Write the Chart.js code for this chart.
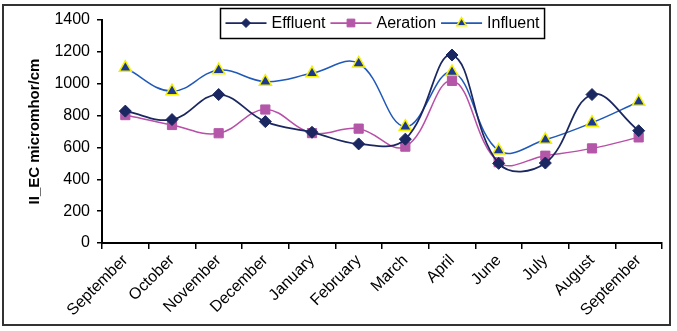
<!DOCTYPE html>
<html>
<head>
<meta charset="utf-8">
<script src="https://cdn.jsdelivr.net/npm/chart.js@4.4.1/dist/chart.umd.min.js"></script>
<style>
    html, body { margin: 0; padding: 0; background: #fff; }
    #wrap { width: 677px; height: 331px; }
</style>
</head>
<body>
<div id="wrap"><canvas id="ecChart" width="677" height="331"></canvas></div>
<script>
const months = ['September', 'October', 'November', 'December', 'January', 'February',
                'March', 'April', 'June', 'July', 'August', 'September'];
const effluent = [828, 775, 932, 762, 695, 622, 652, 1180, 500, 502, 932, 705];
const aeration = [803, 741, 689, 838, 690, 718, 605, 1018, 507, 548, 594, 663];
const influent = [1100, 953, 1085, 1013, 1065, 1127, 730, 1073, 580, 648, 755, 887];
const yTicks = [0, 200, 400, 600, 800, 1000, 1200, 1400];

const FONT = '"Liberation Sans", Arial, sans-serif';

// small marker drawer for the legend
function drawMarker(ctx, style, x, y, r) {
    ctx.beginPath();
    if (style === 'rectRot') {
        ctx.moveTo(x, y - r); ctx.lineTo(x + r, y); ctx.lineTo(x, y + r); ctx.lineTo(x - r, y);
    } else if (style === 'rect') {
        const s = r * Math.SQRT1_2;
        ctx.rect(x - s, y - s, 2 * s, 2 * s);
    } else {
        const h = r * 1.5, w = r * Math.sqrt(3) / 2;
        ctx.moveTo(x, y - r); ctx.lineTo(x + w, y + h - r); ctx.lineTo(x - w, y + h - r);
    }
    ctx.closePath();
    ctx.fill();
    ctx.stroke();
}

const boxLegend = {
    id: 'boxLegend',
    afterDraw(chart) {
        const ctx = chart.ctx;
        const sets = chart.data.datasets;
        const lineLen = 41, gap = 5, pad = 5, h = 30, top = 8;
        ctx.save();
        ctx.font = '16px ' + FONT;
        let total = pad * 2;
        sets.forEach((ds, i) => {
            total += lineLen + gap + ctx.measureText(ds.label).width;
            if (i < sets.length - 1) total += gap;
        });
        const left = Math.round(382.5 - total / 2) + 0.5;
        ctx.fillStyle = '#fff';
        ctx.fillRect(left, top, total, h);
        ctx.strokeStyle = '#000';
        ctx.lineWidth = 1.5;
        ctx.strokeRect(left, top + 0.5, total, h);

        let x = left + pad;
        const cy = top + h / 2;
        sets.forEach(ds => {
            ctx.strokeStyle = ds.borderColor;
            ctx.lineWidth = 1.75;
            ctx.beginPath();
            ctx.moveTo(x, cy);
            ctx.lineTo(x + lineLen, cy);
            ctx.stroke();
            ctx.fillStyle = ds.pointBackgroundColor;
            ctx.strokeStyle = ds.pointBorderColor;
            ctx.lineWidth = ds.pointBorderWidth;
            drawMarker(ctx, ds.pointStyle, x + lineLen / 2, cy, ds.legendRadius);
            x += lineLen + gap;
            ctx.fillStyle = '#000';
            ctx.textBaseline = 'middle';
            ctx.textAlign = 'left';
            ctx.fillText(ds.label, x, cy + 1);
            x += ctx.measureText(ds.label).width + gap;
        });

        // outer frame of the figure
        ctx.strokeStyle = '#333';
        ctx.lineWidth = 2;
        ctx.strokeRect(3, 5, 667, 320);
        ctx.restore();
    }
};

const ctx = document.getElementById('ecChart').getContext('2d');
new Chart(ctx, {
    type: 'line',
    data: {
        labels: months,
        datasets: [{
            label: 'Effluent',
            data: effluent,
            borderColor: '#1B2760',
            borderWidth: 1.75,
            pointStyle: 'rectRot',
            pointRadius: 6,
            pointBackgroundColor: '#1B2760',
            pointBorderColor: '#1B2760',
            pointBorderWidth: 1,
            legendRadius: 4.5
        }, {
            label: 'Aeration',
            data: aeration,
            borderColor: '#B84FA8',
            borderWidth: 1.5,
            pointStyle: 'rect',
            pointRadius: 6.5,
            pointBackgroundColor: '#B457A8',
            pointBorderColor: '#B457A8',
            pointBorderWidth: 1,
            legendRadius: 5.5
        }, {
            label: 'Influent',
            data: influent,
            borderColor: '#2059B8',
            borderWidth: 1.5,
            pointStyle: 'triangle',
            pointRadius: 7,
            pointBackgroundColor: '#1C3A92',
            pointBorderColor: '#F4F000',
            pointBorderWidth: 1.5,
            legendRadius: 5.5
        }]
    },
    options: {
        responsive: false,
        animation: false,
        layout: { padding: { left: 22, right: 15, top: 20, bottom: 8 } },
        elements: { line: { tension: 0.4, fill: false } },
        plugins: {
            legend: { display: false },
            tooltip: { enabled: false }
        },
        scales: {
            x: {
                offset: true,
                grid: { offset: true, drawOnChartArea: false, color: '#000', lineWidth: 1.5, tickLength: 6 },
                border: { color: '#000', width: 2 },
                ticks: {
                    color: '#000',
                    font: { family: FONT, size: 16 },
                    minRotation: 45,
                    maxRotation: 45,
                    autoSkip: false,
                    padding: 2
                },
                afterFit(scale) { scale.height = 80; }
            },
            y: {
                min: 0,
                max: 1400,
                afterBuildTicks(scale) { scale.ticks = yTicks.map(v => ({ value: v })); },
                grid: { drawOnChartArea: false, color: '#000', lineWidth: 1.5, tickLength: 5 },
                border: { color: '#000', width: 2 },
                ticks: {
                    color: '#000',
                    font: { family: FONT, size: 16 },
                    padding: 7,
                    callback: v => String(v)
                },
                title: {
                    display: true,
                    text: 'II_EC micromhor/cm',
                    color: '#000',
                    font: { family: FONT, size: 15, weight: 'bold' },
                    padding: { top: 4, bottom: 4 }
                },
                afterFit(scale) { scale.width = 80; }
            }
        }
    },
    plugins: [boxLegend]
});
</script>
</body>
</html>
